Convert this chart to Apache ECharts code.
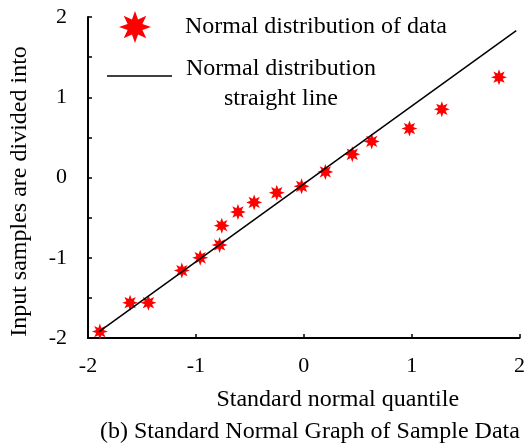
<!DOCTYPE html>
<html>
<head>
<meta charset="utf-8">
<script src="https://cdn.jsdelivr.net/npm/echarts@6/dist/echarts.min.js"></script>
<style>
  html, body { margin: 0; padding: 0; background: #fff; }
  #chart { width: 528px; height: 445px; }
</style>
</head>
<body>
<div id="chart"></div>
<script>
// standard normal quantiles (x) and the matching sample values (y)
const quantiles = [-1.89, -1.61, -1.44, -1.13, -0.96, -0.78, -0.76, -0.61, -0.46, -0.25, -0.02, 0.2, 0.45, 0.63, 0.98, 1.28, 1.81]
const samples = [-1.92, -1.56, -1.56, -1.16, -1.0, -0.84, -0.6, -0.43, -0.31, -0.19, -0.11, 0.07, 0.29, 0.45, 0.61, 0.85, 1.25]

// fitted normal reference line, two end points
const lineX = [-1.9, 1.97]
const lineY = [-1.925, 1.83]

const scatterName = 'Normal distribution of data'
const lineName = 'Normal distribution straight line'
const lineLabel = ['Normal distribution', 'straight line']
const xTitle = 'Standard normal quantile'
const yTitle = 'Input samples are divided into'
const caption = '(b) Standard Normal Graph of Sample Data'

const font = 'Liberation Serif'

// 8 pointed star used as the marker
const starPath = (n, inner) => {
  let d = ''
  for (let i = 0; i < n * 2; i++) {
    const a = -Math.PI / 2 + (i * Math.PI) / n
    const r = i % 2 ? inner : 1
    d += (i ? 'L' : 'M') + (50 + 50 * r * Math.cos(a)).toFixed(2) + ',' + (50 + 50 * r * Math.sin(a)).toFixed(2) + ' '
  }
  return 'path://' + d + 'Z'
}
const star = starPath(8, 0.5)
// thin bar for the legend line sample
const dash = 'path://M0,0 L100,0 L100,2.4 L0,2.4 Z'

const chart = echarts.init(document.getElementById('chart'))

const axisCommon = {
  type: 'value',
  min: -2,
  max: 2,
  nameLocation: 'middle',
  splitLine: { show: false },
  axisLine: { onZero: false, lineStyle: { color: '#000', width: 2 } },
  axisTick: { inside: true, length: 4, lineStyle: { color: '#000', width: 1.5 } }
}

chart.setOption({
  animation: false,
  title: {
    text: caption,
    left: 95,
    top: 415,
    textStyle: { fontFamily: font, fontSize: 24, fontWeight: 'normal', color: '#000' }
  },
  legend: [
    {
      data: [{ name: scatterName, icon: star }],
      left: 119,
      top: 11,
      padding: 0,
      itemWidth: 32,
      itemHeight: 32,
      textStyle: { fontFamily: font, fontSize: 24, color: '#000', padding: [0, 0, 0, 29] }
    },
    {
      data: [{ name: lineName, icon: dash }],
      left: 107,
      top: 57,
      padding: 0,
      itemWidth: 65,
      itemHeight: 14,
      formatter: () => lineLabel.map((s) => '{a|' + s + '}').join('\n'),
      textStyle: {
        fontFamily: font,
        fontSize: 24,
        color: '#000',
        padding: [16, 0, 0, 9],
        rich: { a: { align: 'center', fontFamily: font, fontSize: 24, lineHeight: 30, color: '#000' } }
      }
    }
  ],
  grid: { left: 85, right: 6, top: 17, bottom: 107 },
  xAxis: {
    ...axisCommon,
    interval: 1,
    name: xTitle,
    nameGap: 50,
    nameTextStyle: { fontFamily: font, fontSize: 24, color: '#000', padding: [0, 0, 0, 68] },
    axisLabel: { fontFamily: font, fontSize: 22, color: '#000', margin: 17 }
  },
  yAxis: {
    ...axisCommon,
    interval: 0.5,
    name: yTitle,
    nameGap: 56,
    nameTextStyle: { fontFamily: font, fontSize: 24, color: '#000', padding: [0, 28, 0, 0] },
    axisLabel: {
      fontFamily: font,
      fontSize: 22,
      color: '#000',
      margin: 21,
      formatter: (v) => (Number.isInteger(v) ? String(v) : '')
    }
  },
  series: [
    {
      name: lineName,
      type: 'line',
      symbol: 'none',
      lineStyle: { color: '#000', width: 1.5 },
      itemStyle: { color: '#000' },
      data: lineX.map((x, i) => [x, lineY[i]])
    },
    {
      name: scatterName,
      type: 'scatter',
      symbol: star,
      symbolSize: 16,
      itemStyle: { color: '#ff0000', opacity: 1 },
      data: quantiles.map((x, i) => [x, samples[i]])
    }
  ]
})
</script>
</body>
</html>
